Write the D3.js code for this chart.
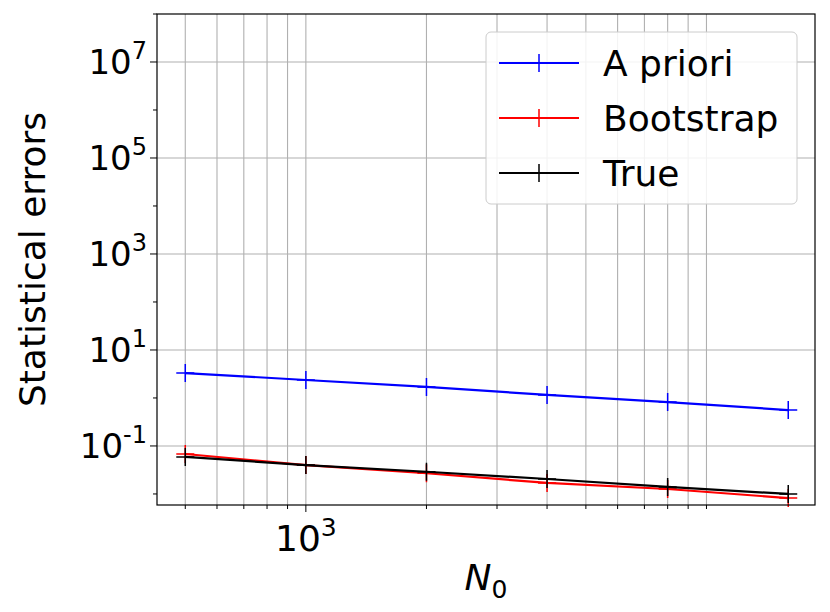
<!DOCTYPE html>
<html lang="en">
<head>
<meta charset="UTF-8" />
<title>Statistical errors</title>
<script src="https://d3js.org/d3.v7.min.js"></script>
<style>
  body { margin: 0; background: #fff; }
  text { font-family: "DejaVu Sans", sans-serif; }
</style>
</head>
<body>
<div id="chart"></div>
<script>
// sample sizes and error estimates
var nValues = [500, 1000, 2000, 4000, 8000, 16000];
var aPriori = [3.3, 2.37, 1.7, 1.16, 0.82, 0.56];
var bootstrap = [0.068, 0.040, 0.027, 0.017, 0.0127, 0.0082];
var trueErr = [0.059, 0.040, 0.029, 0.0205, 0.014, 0.010];
var seriesNames = ["A priori", "Bootstrap", "True"];
var seriesColors = ["#0000ff", "#ff0000", "#000000"];
var yTicks = [1e-1, 1e1, 1e3, 1e5, 1e7];
var yExps = [-1, 1, 3, 5, 7];

var W = 830, H = 612;
var m = { left: 157, right: 15, top: 14, bottom: 107 };

var svg = d3.select("#chart").append("svg").attr("width", W).attr("height", H);

var x = d3.scaleLog().domain([425, 18660]).range([m.left, W - m.right]);
var y = d3.scaleLog().domain([Math.pow(10, -2.23), 1e8]).range([H - m.bottom, m.top]);

var g = svg.append("g");
var grid = "#b0b0b0";

// vertical grid (major + minor)
var xt = x.ticks();
g.selectAll(".vx").data(xt).enter().append("line")
  .attr("x1", d => x(d)).attr("x2", d => x(d))
  .attr("y1", m.top).attr("y2", H - m.bottom)
  .attr("stroke", grid).attr("stroke-width", 1.1);
// horizontal grid at labelled ticks
g.selectAll(".hy").data(yTicks).enter().append("line")
  .attr("x1", m.left).attr("x2", W - m.right)
  .attr("y1", d => y(d)).attr("y2", d => y(d))
  .attr("stroke", grid).attr("stroke-width", 1.1);

// series
var all = [aPriori, bootstrap, trueErr];
var line = d3.line().x((d, i) => x(nValues[i])).y(d => y(d));
all.forEach(function (vals, k) {
  g.append("path").datum(vals).attr("d", line)
    .attr("fill", "none").attr("stroke", seriesColors[k]).attr("stroke-width", 2.2);
  g.selectAll(".m" + k).data(vals).enter().append("path")
    .attr("d", (d, i) => {
      var px = x(nValues[i]), py = y(d);
      return "M" + (px - 9) + "," + py + "H" + (px + 9) + "M" + px + "," + (py - 9) + "V" + (py + 9);
    })
    .attr("stroke", seriesColors[k]).attr("stroke-width", 1.5);
});

// frame
svg.append("rect").attr("x", m.left).attr("y", m.top)
  .attr("width", W - m.left - m.right).attr("height", H - m.top - m.bottom)
  .attr("fill", "none").attr("stroke", "#000").attr("stroke-width", 1.2);

// x ticks
svg.selectAll(".xt").data(xt).enter().append("line")
  .attr("x1", d => x(d)).attr("x2", d => x(d))
  .attr("y1", H - m.bottom).attr("y2", d => H - m.bottom + (d === 1000 ? 7 : 4))
  .attr("stroke", "#000");
var xl = svg.append("text").attr("x", x(1000)).attr("y", H - m.bottom + 46)
  .attr("text-anchor", "middle").attr("font-size", 36);
xl.append("tspan").text("10");
xl.append("tspan").attr("dy", -15).attr("font-size", 25).text("3");

// y ticks (major + minor)
var yAll = [];
for (var e = -3; e <= 8; e++) yAll.push(Math.pow(10, e));
svg.selectAll(".yt").data(yAll.filter(d => d >= y.domain()[0] && d <= 1e8)).enter().append("line")
  .attr("x1", m.left).attr("x2", d => m.left - (yTicks.indexOf(d) >= 0 ? 7 : 4))
  .attr("y1", d => y(d)).attr("y2", d => y(d)).attr("stroke", "#000");
yTicks.forEach(function (d, i) {
  var t = svg.append("text").attr("x", m.left - 10).attr("y", y(d) + 12)
    .attr("text-anchor", "end").attr("font-size", 34);
  t.append("tspan").text("10");
  t.append("tspan").attr("dy", -15).attr("font-size", 24).text(yExps[i]);
});

// axis titles
var xTitle = svg.append("text").attr("x", (m.left + W - m.right) / 2).attr("y", 590)
  .attr("text-anchor", "middle").attr("font-size", 36).attr("font-style", "italic");
xTitle.append("tspan").text("N");
xTitle.append("tspan").attr("dy", 8).attr("font-size", 25).attr("font-style", "normal").text("0");
svg.append("text").attr("transform", "translate(45," + ((m.top + H - m.bottom) / 2) + ") rotate(-90)")
  .attr("text-anchor", "middle").attr("font-size", 36).text("Statistical errors");

// legend
var lg = svg.append("g").attr("transform", "translate(486,32)");
lg.append("rect").attr("width", 311).attr("height", 172).attr("rx", 5)
  .attr("fill", "#fff").attr("fill-opacity", 0.85).attr("stroke", "#ccc");
seriesNames.forEach(function (n, i) {
  var cy = 31 + i * 55;
  lg.append("line").attr("x1", 13).attr("x2", 93).attr("y1", cy).attr("y2", cy)
    .attr("stroke", seriesColors[i]).attr("stroke-width", 2.2);
  lg.append("path").attr("d", "M44," + cy + "H62M53," + (cy - 9) + "V" + (cy + 9))
    .attr("stroke", seriesColors[i]).attr("stroke-width", 1.5);
  lg.append("text").attr("x", 117).attr("y", cy + 13).attr("font-size", 36).text(n);
});
</script>
</body>
</html>
